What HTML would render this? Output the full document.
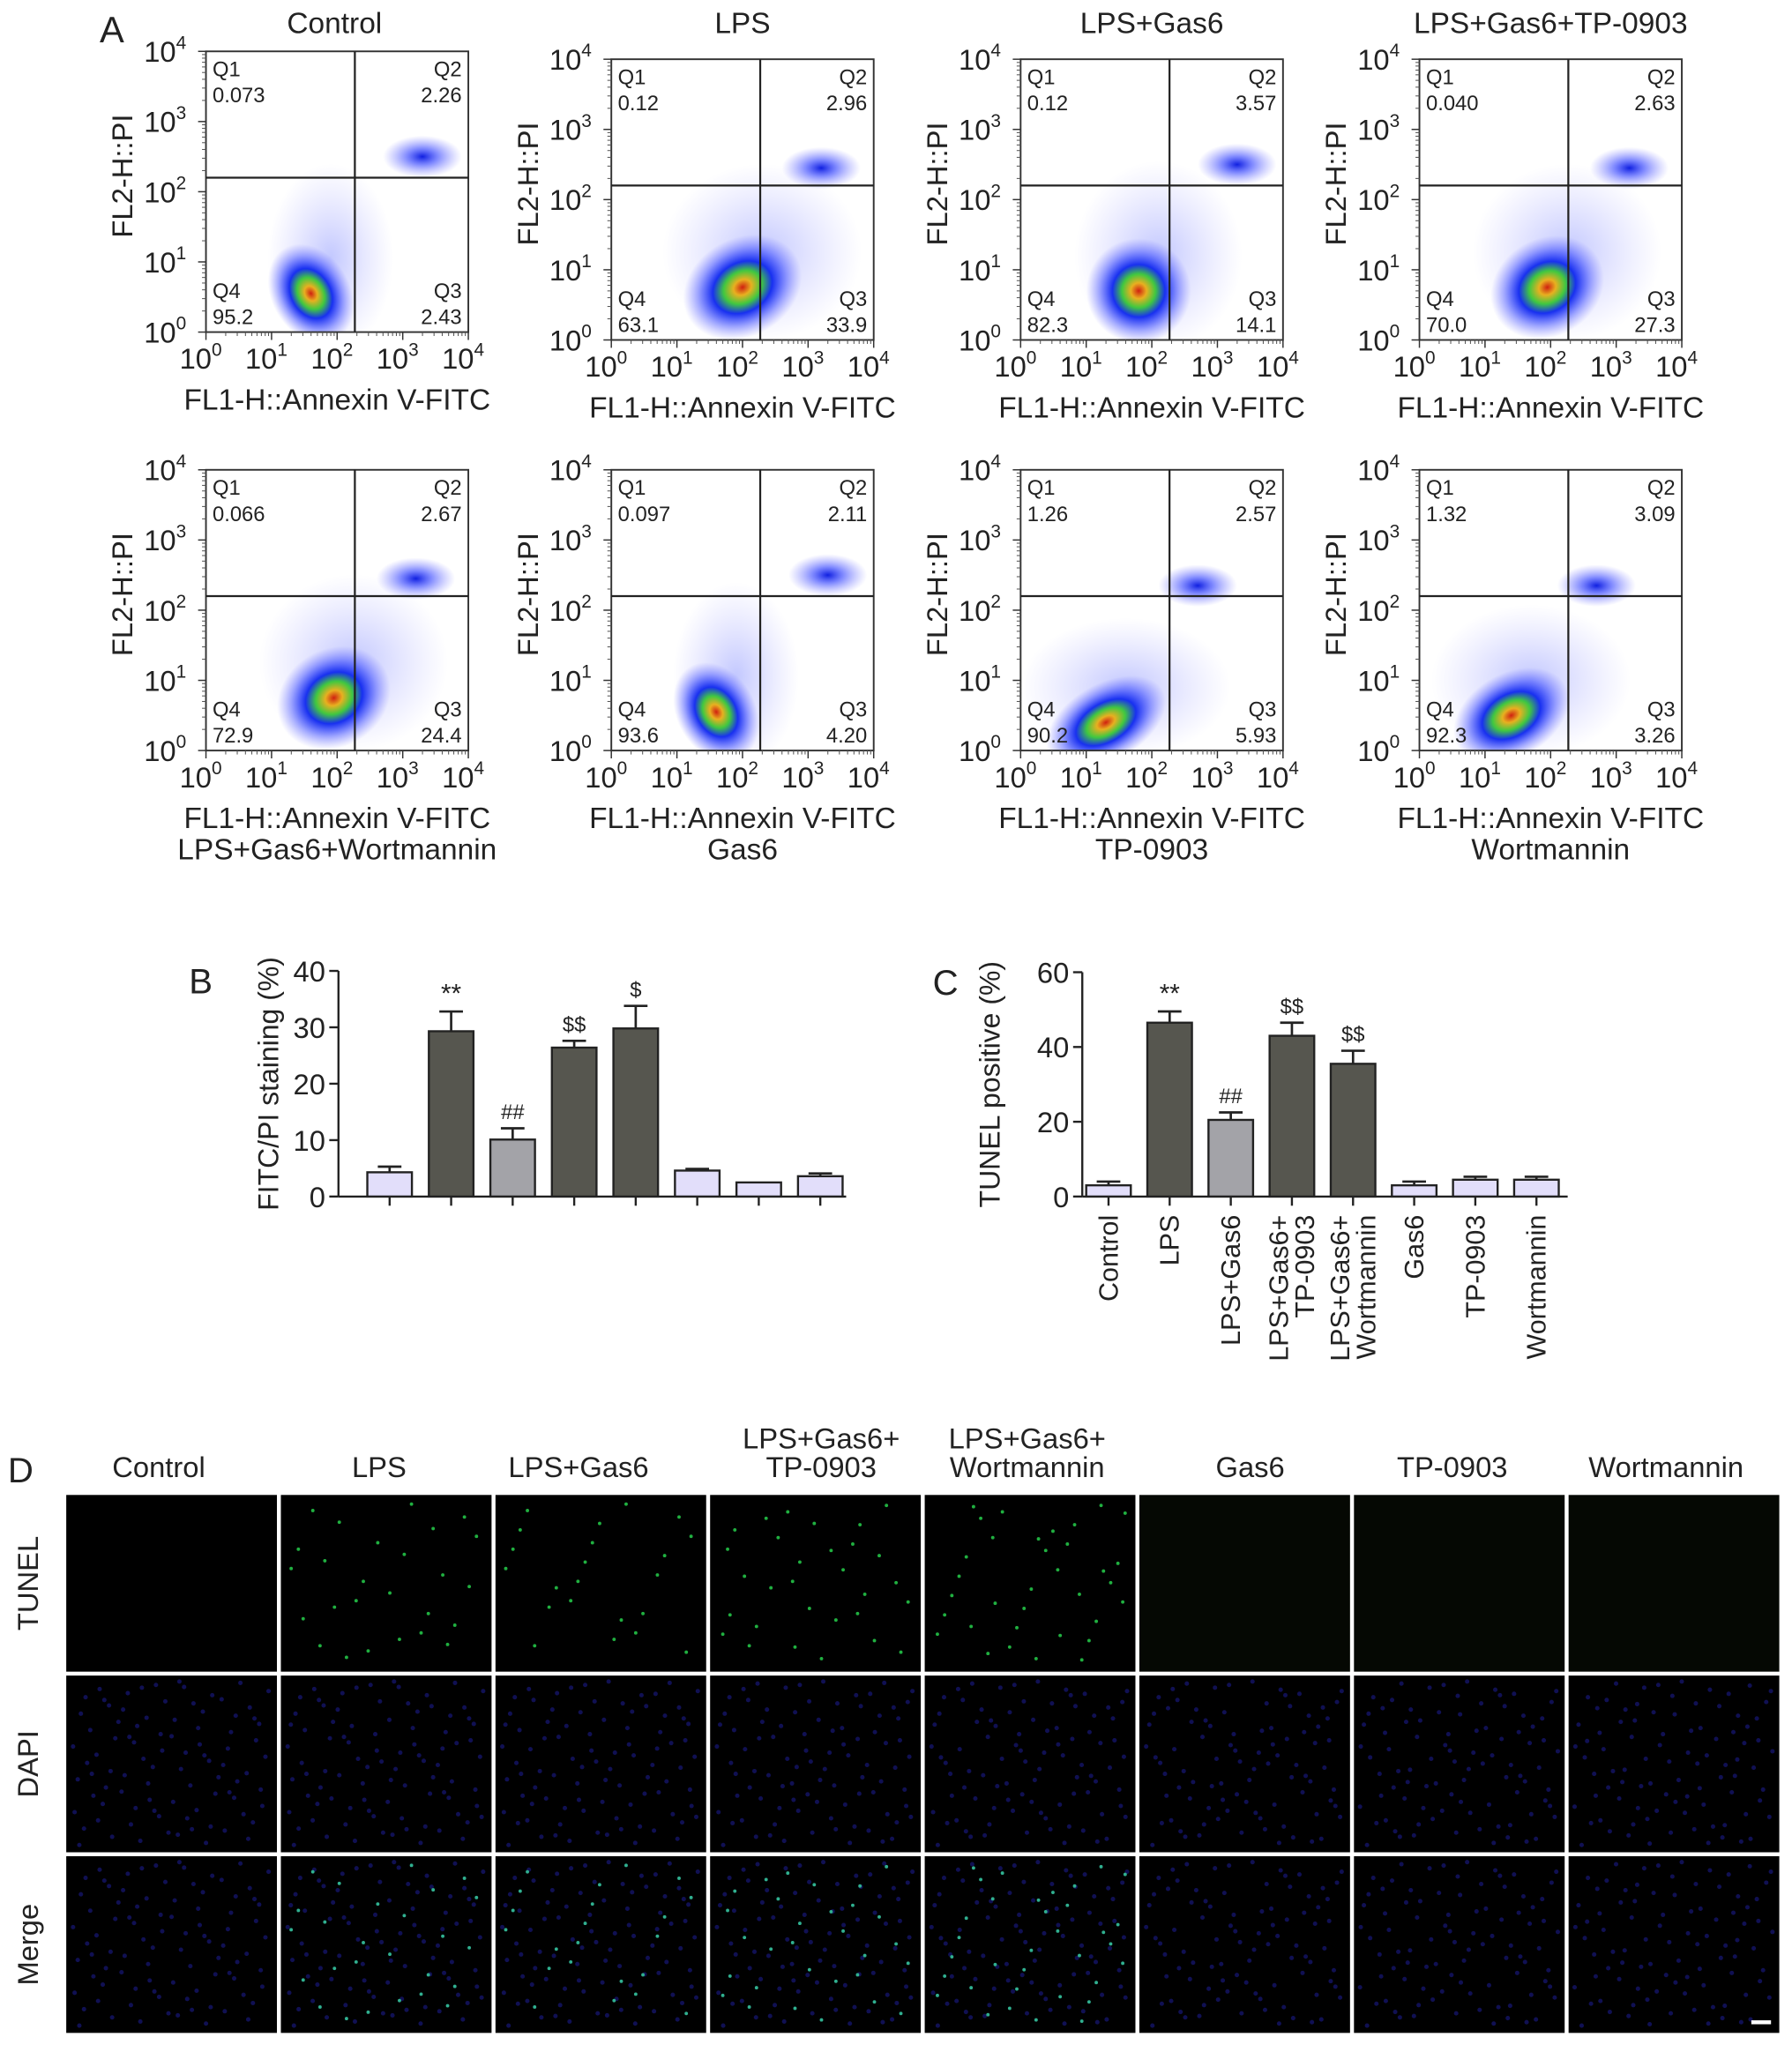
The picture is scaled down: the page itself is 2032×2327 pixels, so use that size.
<!DOCTYPE html>
<html><head><meta charset="utf-8"><style>
html,body{margin:0;padding:0;background:#fff}
svg{display:block}
text{font-family:"Liberation Sans",Arial,sans-serif;fill:#222}
</style></head><body>
<svg id="fig" xmlns="http://www.w3.org/2000/svg" width="2032" height="2327" viewBox="0 0 1366 1564">
<defs>
<radialGradient id="cloud" cx="50%" cy="50%" r="50%">
<stop offset="0" stop-color="#d02010"/>
<stop offset="0.15" stop-color="#e8b020"/>
<stop offset="0.32" stop-color="#40c840"/>
<stop offset="0.5" stop-color="#1830f0"/>
<stop offset="0.75" stop-color="#3040ff" stop-opacity="0.45"/>
<stop offset="1" stop-color="#6060ff" stop-opacity="0"/>
</radialGradient>
<radialGradient id="halo" cx="50%" cy="50%" r="50%">
<stop offset="0" stop-color="#5060ff" stop-opacity="0.35"/>
<stop offset="1" stop-color="#8080ff" stop-opacity="0"/>
</radialGradient>
<radialGradient id="q2" cx="50%" cy="50%" r="50%">
<stop offset="0" stop-color="#1020e0"/>
<stop offset="0.4" stop-color="#3040ff" stop-opacity="0.6"/>
<stop offset="1" stop-color="#7070ff" stop-opacity="0"/>
</radialGradient>
</defs>
<g id="flow"></g>
<g id="barB"></g>
<g id="barC"></g>
<g id="panelD"></g>
</svg>
<script>
const NS="http://www.w3.org/2000/svg";
function mk(tag,attrs,parent,txt){const e=document.createElementNS(NS,tag);for(const k in attrs)e.setAttribute(k,attrs[k]);if(txt!==undefined)e.textContent=txt;parent.appendChild(e);return e;}

// ---------- Panel A data ----------
const flowTitles=["Control","LPS","LPS+Gas6","LPS+Gas6+TP-0903","LPS+Gas6+Wortmannin","Gas6","TP-0903","Wortmannin"];
const q1Vals=["0.073","0.12","0.12","0.040","0.066","0.097","1.26","1.32"];
const q2Vals=["2.26","2.96","3.57","2.63","2.67","2.11","2.57","3.09"];
const q3Vals=["2.43","33.9","14.1","27.3","24.4","4.20","5.93","3.26"];
const q4Vals=["95.2","63.1","82.3","70.0","72.9","93.6","90.2","92.3"];
const cloudX=[1.6,2.0,1.8,1.95,1.95,1.6,1.3,1.4];
const cloudY=[0.55,0.75,0.7,0.75,0.75,0.55,0.4,0.5];
const cloudRX=[0.6,0.95,0.8,0.9,0.9,0.6,1.0,0.95];
const cloudRY=[0.75,0.7,0.75,0.7,0.7,0.75,0.55,0.6];
const clusterX=[3.3,3.2,3.3,3.2,3.2,3.3,2.7,2.7];
const clusterY=[2.5,2.45,2.5,2.45,2.45,2.5,2.35,2.35];
const boxL=[157,466,778,1082,157,466,778,1082];
const boxT=[39,45,45,45,358,358,358,358];
const flow=document.getElementById('flow');
const W=200,H=214;
mk('text',{x:76,y:32,'font-size':28},flow,'A');
for(let i=0;i<8;i++){
  const g=mk('g',{},flow);
  
  
  const L=boxL[i],T=boxT[i];
  const sx=v=>L+v/4*W, sy=v=>T+H-v/4*H;
  const cp=mk('clipPath',{id:'cp'+i},g);mk('rect',{x:L,y:T,width:W,height:H},cp);
  const cg=mk('g',{'clip-path':'url(#cp'+i+')'},g);
  mk('ellipse',{cx:sx(cloudX[i]+0.3),cy:sy(cloudY[i]+0.5),rx:cloudRX[i]/4*W*1.6,ry:cloudRY[i]/4*H*1.8,fill:'url(#halo)'},cg);
  const c=mk('ellipse',{cx:sx(cloudX[i]),cy:sy(cloudY[i]),rx:cloudRX[i]/4*W,ry:cloudRY[i]/4*H,fill:'url(#cloud)',transform:`rotate(-30 ${sx(cloudX[i])} ${sy(cloudY[i])})`},cg);
  
  
  const q=mk('ellipse',{cx:sx(clusterX[i]),cy:sy(clusterY[i]),rx:0.6/4*W,ry:0.3/4*H,fill:'url(#q2)'},cg);
  
  
  mk('rect',{x:L,y:T,width:W,height:H,fill:'none',stroke:'#333','stroke-width':1.3},g);
  const qx=sx(2.27),qy=sy(2.2);
  mk('line',{x1:qx,y1:T,x2:qx,y2:T+H,stroke:'#222','stroke-width':1.5},g);
  mk('line',{x1:L,y1:qy,x2:L+W,y2:qy,stroke:'#222','stroke-width':1.5},g);
  const fs=16;
  mk('text',{x:L+5,y:T+19,'font-size':fs},g,'Q1');
  mk('text',{x:L+5,y:T+39,'font-size':fs},g,q1Vals[i]);
  mk('text',{x:L+W-5,y:T+19,'font-size':fs,'text-anchor':'end'},g,'Q2');
  mk('text',{x:L+W-5,y:T+39,'font-size':fs,'text-anchor':'end'},g,q2Vals[i]);
  mk('text',{x:L+5,y:T+H-26,'font-size':fs},g,'Q4');
  mk('text',{x:L+5,y:T+H-6,'font-size':fs},g,q4Vals[i]);
  mk('text',{x:L+W-5,y:T+H-26,'font-size':fs,'text-anchor':'end'},g,'Q3');
  mk('text',{x:L+W-5,y:T+H-6,'font-size':fs,'text-anchor':'end'},g,q3Vals[i]);
  for(let d=0;d<=4;d++){
    mk('line',{x1:sx(d),y1:T+H,x2:sx(d),y2:T+H+6,stroke:'#333'},g);
    const tx=mk('text',{x:sx(d)-4,y:T+H+28,'font-size':22,'text-anchor':'middle'},g,'10');
    mk('tspan',{dy:-10,'font-size':14},tx,String(d));
    mk('line',{x1:L-6,y1:sy(d),x2:L,y2:sy(d),stroke:'#333'},g);
    const ty=mk('text',{x:L-15,y:sy(d)+8,'font-size':22,'text-anchor':'end'},g,'10');
    mk('tspan',{dy:-10,'font-size':14},ty,String(d));
    if(d<4)for(let m=2;m<10;m++){const v=d+Math.log10(m);
      mk('line',{x1:sx(v),y1:T+H,x2:sx(v),y2:T+H+3,stroke:'#555','stroke-width':0.7},g);
      mk('line',{x1:L-3,y1:sy(v),x2:L,y2:sy(v),stroke:'#555','stroke-width':0.7},g);}
  }
  mk('text',{x:L+W/2,y:T+H+59,'font-size':22.5,'text-anchor':'middle'},g,'FL1-H::Annexin V-FITC');
  mk('text',{x:0,y:0,'font-size':22,'text-anchor':'middle',transform:`translate(${L-56},${T+H/2-12}) rotate(-90)`},g,'FL2-H::PI');
  const tt=i<4?mk('text',{x:L+W/2-(i==0?2:0),y:25,'font-size':22.5,'text-anchor':'middle'},g,flowTitles[i]):mk('text',{x:L+W/2,y:T+H+83,'font-size':22.5,'text-anchor':'middle'},g,flowTitles[i]);
  
  
}

// ---------- Panel B data ----------
const bVals=[4.3,29.3,10.1,26.4,29.8,4.6,2.5,3.6];
const bErr=[1.0,3.5,2.0,1.2,4.0,0.3,0,0.5];
const bMarks=["","**","##","$$","$","","",""];
const bTicks=[0,10,20,30,40];
// ---------- Panel C data ----------
const cVals=[3.0,46.5,20.5,43.0,35.5,3.0,4.5,4.5];
const cErr=[1.0,3.0,2.0,3.5,3.5,1.0,0.8,0.8];
const cMarks=["","**","##","$$","$$","","",""];
const cTicks=[0,20,40,60];
const cats=[["Control"],["LPS"],["LPS+Gas6"],["LPS+Gas6+","TP-0903"],["LPS+Gas6+","Wortmannin"],["Gas6"],["TP-0903"],["Wortmannin"]];
const barFill=["#e2defa","#56564f","#a3a3a8","#56564f","#56564f","#e2defa","#e2defa","#e2defa"];

function barChart(gid,letter,ax,y0,ytop,ymax,first,step,endX,vals,errs,marks,ticks,ylabel,labX,withCats){
  const g=document.getElementById(gid);
  const sy=v=>y0-(v/ymax)*(y0-ytop);
  const bx=i=>first+i*step;
  mk('text',{x:ax-114,y:ytop+17,'font-size':27},g,letter);
  mk('line',{x1:ax,y1:ytop,x2:ax,y2:y0,stroke:'#222','stroke-width':1.6},g);
  mk('line',{x1:ax,y1:y0,x2:endX,y2:y0,stroke:'#222','stroke-width':1.6},g);
  ticks.forEach(t=>{mk('line',{x1:ax-7,y1:sy(t),x2:ax,y2:sy(t),stroke:'#222','stroke-width':1.6},g);
    mk('text',{x:ax-10,y:sy(t)+8,'font-size':22,'text-anchor':'end'},g,String(t));});
  mk('text',{x:0,y:0,'font-size':21.5,'text-anchor':'middle',transform:`translate(${labX},${(y0+ytop)/2}) rotate(-90)`},g,ylabel);
  vals.forEach((v,i)=>{
    const x=bx(i),bw=34;
    mk('line',{x1:x,y1:y0,x2:x,y2:y0+7,stroke:'#222','stroke-width':1.6},g);
    const top=sy(v+errs[i]);
    if(errs[i]>0){mk('line',{x1:x,y1:sy(v),x2:x,y2:top,stroke:'#222','stroke-width':1.8},g);
      mk('line',{x1:x-9,y1:top,x2:x+9,y2:top,stroke:'#222','stroke-width':1.8},g);}
    const r=mk('rect',{x:x-bw/2,y:sy(v),width:bw,height:y0-sy(v),fill:barFill[i],stroke:'#222','stroke-width':1.6},g);
    
    
    if(marks[i])mk('text',{x:x,y:top-7,'font-size':marks[i][0]=='*'?20:16,'text-anchor':'middle'},g,marks[i]);
    if(withCats){
      const lines=cats[i];
      lines.forEach((ln,k)=>{
        const off=(k-(lines.length-1)/2)*20;
        mk('text',{x:0,y:0,'font-size':20.5,'text-anchor':'end',transform:`translate(${x+7+off},${y0+14}) rotate(-90)`},g,ln);
      });
    }
  });
}
barChart('barB','B',258,912,740,40,297,46.9,645,bVals,bErr,bMarks,bTicks,'FITC/PI staining (%)',212,false);
barChart('barC','C',825,912,741,60,845,46.6,1195,cVals,cErr,cMarks,cTicks,'TUNEL positive (%)',762,true);

// ---------- Panel D ----------
const dTitles=[["Control"],["LPS"],["LPS+Gas6"],["LPS+Gas6+","TP-0903"],["LPS+Gas6+","Wortmannin"],["Gas6"],["TP-0903"],["Wortmannin"]];
const titleX=[121,289,441,626,783,953,1107,1270];
const rowNames=["TUNEL","DAPI","Merge"];
const tunelDots=[0,26,22,30,34,0,0,0];
const D=document.getElementById('panelD');
mk('text',{x:6,y:1130,'font-size':27},D,'D');
const dL=49,dT=1138,cw=163.6,rh=137.7;
function hal(n,b){let f=1,r=0;while(n>0){f/=b;r+=f*(n%b);n=Math.floor(n/b);}return r;}
for(let c=0;c<8;c++){
  dTitles[c].forEach((t,k)=>mk('text',{x:titleX[c],y:1126-(dTitles[c].length-1-k)*22,'font-size':22,'text-anchor':'middle'},D,t));
  for(let r=0;r<3;r++){
    const x=dL+c*cw+1.5,y=dT+r*rh+1.5,w=cw-3,h=rh-3;
    const cell=mk('rect',{x:x,y:y,width:w,height:h,fill:(r==0&&c>=5)?'#050803':'#000'},D);
    
    
    if(r>0){for(let k=0;k<90;k++){mk('circle',{cx:x+4+hal(k+c*7+1,2)*(w-8),cy:y+4+hal(k+c*7+1,3)*(h-8),r:1.7,fill:'#1a1a8a',opacity:0.6},D);}}
    if(r!=1){for(let k=0;k<tunelDots[c];k++){mk('circle',{cx:x+6+hal(k+c*11+3,3)*(w-12),cy:y+6+hal(k+c*11+3,5)*(h-12),r:1.3,fill:r==0?'#20b040':'#30b090'},D);}}
  }
}
rowNames.forEach((n,r)=>mk('text',{x:0,y:0,'font-size':22,'text-anchor':'middle',transform:`translate(29,${dT+r*rh+rh/2}) rotate(-90)`},D,n));
mk('rect',{x:1335,y:1540,width:15,height:3,fill:'#fff'},D);
</script>
</body></html>
